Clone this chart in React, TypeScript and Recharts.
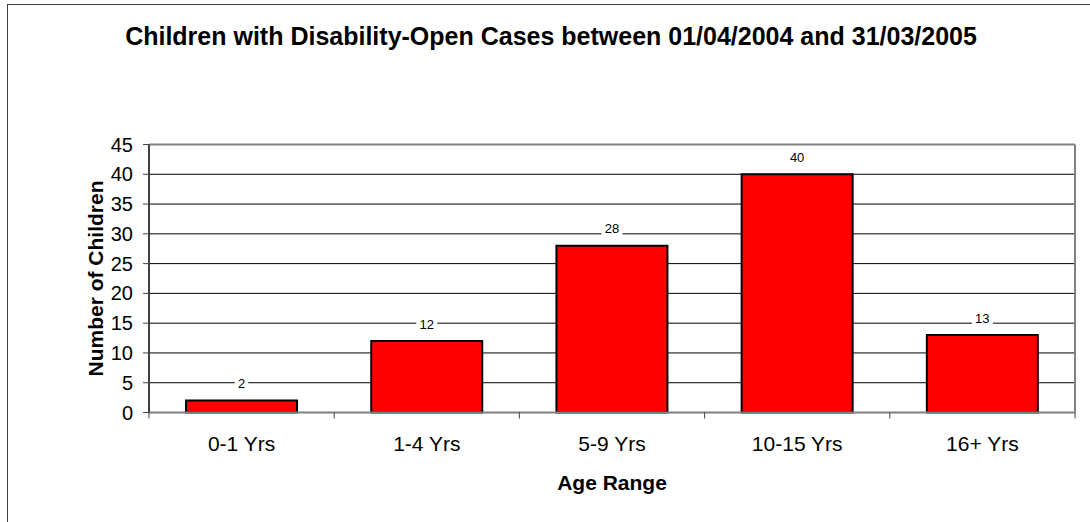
import React from "react";
import {
  BarChart,
  Bar,
  XAxis,
  YAxis,
  CartesianGrid,
  ReferenceLine,
  LabelList,
  Label,
} from "recharts";

const ageRanges = ["0-1 Yrs", "1-4 Yrs", "5-9 Yrs", "10-15 Yrs", "16+ Yrs"];
const openCases = [2, 12, 28, 40, 13];
const countTicks = [0, 5, 10, 15, 20, 25, 30, 35, 40, 45];

const data = ageRanges.map((range, i) => ({ range, cases: openCases[i] }));

const FONT = "'Liberation Sans', Arial, Helvetica, sans-serif";
const AXIS_GREY = "#808080";

// category label centred in its band, with Excel-style tick marks on the band edges
function AgeTick(props: any) {
  const { x, y, payload, index } = props;
  const half = payload.offset ?? 0;
  const last = index === ageRanges.length - 1;
  return (
    <g>
      <line x1={x - half} x2={x - half} y1={y} y2={y + 6} stroke="#404040" />
      {last && <line x1={x + half} x2={x + half} y1={y} y2={y + 6} stroke="#404040" />}
      <text x={x} y={y + 38} textAnchor="middle" fontSize={21} fontFamily={FONT} fill="#000">
        {payload.value}
      </text>
    </g>
  );
}

// value tag above each bar, on a white patch so the gridline breaks around it
function ValueTag(props: any) {
  const { x, y, width, value } = props;
  const cx = x + width / 2;
  const cy = y - 17;
  const w = String(value).length * 7.5 + 6;
  return (
    <g>
      <rect x={cx - w / 2} y={cy - 7} width={w} height={14} fill="#fff" />
      <text x={cx} y={cy} dy="0.35em" textAnchor="middle" fontSize={13} fontFamily={FONT} fill="#000">
        {value}
      </text>
    </g>
  );
}

export default function App() {
  return (
    <div style={{ position: "absolute", left: 0, top: 0, width: 1090, height: 522, overflow: "hidden", background: "#fff" }}>
      <BarChart
        width={1090}
        height={522}
        data={data}
        margin={{ top: 144.5, right: 15, left: 89, bottom: 29.5 }}
        barCategoryGap="20%"
      >
        <CartesianGrid vertical={false} stroke="#000" />
        <CartesianGrid
          horizontal={false}
          stroke={AXIS_GREY}
          strokeWidth={2}
          verticalCoordinatesGenerator={({ offset }: any) => [offset.left + offset.width]}
        />
        <ReferenceLine y={45} stroke={AXIS_GREY} strokeWidth={2} />
        <XAxis
          dataKey="range"
          height={80}
          axisLine={{ stroke: AXIS_GREY, strokeWidth: 2 }}
          tickLine={false}
          tickSize={0}
          tickMargin={0}
          tick={<AgeTick />}
          interval={0}
        >
          <Label
            content={(p: any) => {
              const vb = p.viewBox;
              return (
                <text
                  x={vb.x + vb.width / 2}
                  y={vb.y + 77}
                  textAnchor="middle"
                  fontSize={21}
                  fontWeight="bold"
                  fontFamily={FONT}
                  fill="#000"
                >
                  Age Range
                </text>
              );
            }}
          />
        </XAxis>
        <YAxis
          width={60}
          domain={[0, 45]}
          ticks={countTicks}
          interval={0}
          axisLine={{ stroke: "#404040", strokeWidth: 2 }}
          tickLine={{ stroke: "#404040" }}
          tickSize={6}
          tickMargin={10}
          tick={{ fontSize: 20, fill: "#000", fontFamily: FONT }}
        >
          <Label
            content={(p: any) => {
              const vb = p.viewBox;
              const cx = vb.x + 13.5;
              const cy = vb.y + vb.height / 2;
              return (
                <text
                  x={cx}
                  y={cy}
                  transform={`rotate(-90 ${cx} ${cy})`}
                  textAnchor="middle"
                  fontSize={21}
                  fontWeight="bold"
                  fontFamily={FONT}
                  fill="#000"
                >
                  Number of Children
                </text>
              );
            }}
          />
        </YAxis>
        <Bar dataKey="cases" fill="#FF0000" stroke="#000" strokeWidth={2} isAnimationActive={false}>
          <LabelList dataKey="cases" content={<ValueTag />} />
        </Bar>
      </BarChart>
      <svg
        width={1090}
        height={522}
        style={{ position: "absolute", left: 0, top: 0, pointerEvents: "none" }}
      >
        <rect x={7.5} y={4.5} width={1200} height={700} fill="none" stroke="#404040" />
        <text
          x={551}
          y={45}
          textAnchor="middle"
          fontSize={25}
          fontWeight="bold"
          fontFamily={FONT}
          fill="#000"
        >
          Children with Disability-Open Cases between 01/04/2004 and 31/03/2005
        </text>
      </svg>
    </div>
  );
}
